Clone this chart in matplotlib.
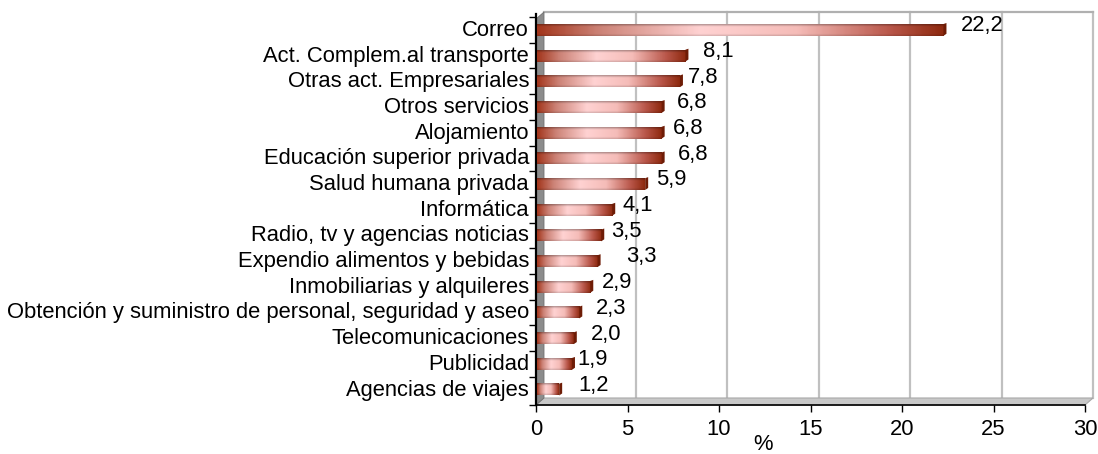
import numpy as np
import matplotlib.pyplot as plt
from matplotlib import transforms
from matplotlib.colors import LinearSegmentedColormap
from matplotlib.patches import Polygon

plt.rcParams['font.family'] = ['Liberation Sans', 'DejaVu Sans']

# data, top to bottom as in the chart
categories = [
    'Correo',
    'Act. Complem.al transporte',
    'Otras act. Empresariales',
    'Otros servicios',
    'Alojamiento',
    'Educación superior privada',
    'Salud humana privada',
    'Informática',
    'Radio, tv y agencias noticias',
    'Expendio alimentos y bebidas',
    'Inmobiliarias y alquileres',
    'Obtención y suministro de personal, seguridad y aseo',
    'Telecomunicaciones',
    'Publicidad',
    'Agencias de viajes',
]
values = [22.2, 8.1, 7.8, 6.8, 6.8, 6.8, 5.9, 4.1, 3.5, 3.3, 2.9, 2.3, 2.0, 1.9, 1.2]
x_ticks = [0, 5, 10, 15, 20, 25, 30]
# gap (px) between bar end and its label, labels were hand placed in the original
label_gap = [15, 15, 5, 12, 8, 13, 8, 7, 7, 26, 9, 14, 14, 3, 16]

FS = 15.8
W, H = 1098, 454
fig = plt.figure(figsize=(W / 100, H / 100), dpi=100)
# axes box in pixels: left 536, right 1085, top 14, bottom 405
ax = fig.add_axes([536 / W, 1 - 405 / H, (1085 - 536) / W, (405 - 14) / H])

n = len(categories)
pos = np.arange(n)[::-1]
ax.set_xlim(0, 30)
ax.set_ylim(-0.8, n - 1 + 0.42)

# 3d depth offset in pixels
dx_px, dy_px = 8, 7
ax_w, ax_h = 1085 - 536, 405 - 14
dx, dy = dx_px / ax_w, dy_px / ax_h
back = ax.get_xaxis_transform() + transforms.ScaledTranslation(dx_px / 100, dy_px / 100, fig.dpi_scale_trans)
top_frac = 1 - (dy_px - 2) / ax_h

# back wall grid lines
for t in x_ticks[1:]:
    ax.plot([t, t], [0, top_frac], color='#c0c0c0', lw=1.6, transform=back, clip_on=False, zorder=1)
ax.plot([0, 30], [top_frac, top_frac], color='#b0b0b0', lw=1.6, transform=back, clip_on=False, zorder=1)

# floor
floor = Polygon([(0, 0), (1, 0), (1 + dx, dy), (dx, dy)], closed=True, transform=ax.transAxes,
                facecolor='#c8c8c8', edgecolor='#a8a8a8', lw=0.8, clip_on=False, zorder=1)
ax.add_patch(floor)
# left wall
wall = Polygon([(0, 0), (dx, dy), (dx, top_frac + dy), (0, top_frac)], closed=True, transform=ax.transAxes,
               facecolor='#8c8c8c', edgecolor='#707070', lw=0.6, clip_on=False, zorder=1)
ax.add_patch(wall)

# bar shading: dark ends, light pink in the middle
cmap = LinearSegmentedColormap.from_list('bar', [
    (0.0, '#a3361c'), (0.15, '#cc8276'), (0.4, '#ffd2d2'), (0.64, '#f5bcb8'),
    (0.87, '#b9574a'), (1.0, '#8f2a10')])
nx, ny = 200, 24
tx = np.linspace(0, 1, nx)
row = cmap(tx)[:, :3]
vy = np.linspace(0, 1, ny)
shade = 1 - 0.3 * np.clip((0.2 - vy) / 0.2, 0, 1) - 0.15 * np.clip((vy - 0.82) / 0.18, 0, 1)
img = np.clip(row[None, :, :] * shade[:, None, None], 0, 1)

bh = 0.46
shift = 4 / (ax_w / 30) * 0.3  # bars sit in middle depth
cap_w = 3 / (ax_w / 30)
for p, v in zip(pos, values):
    y0 = p - 0.2
    ax.imshow(img, extent=(shift, v + shift, y0 - bh / 2, y0 + bh / 2), origin='upper',
              aspect='auto', interpolation='bilinear', zorder=3)
    ax.add_patch(Polygon([(v + shift, y0 - bh / 2), (v + shift + cap_w, y0 - bh / 2 + 0.08),
                          (v + shift + cap_w, y0 + bh / 2 + 0.04), (v + shift, y0 + bh / 2)],
                         closed=True, facecolor='#6e1c06', edgecolor='none', zorder=4))

ax.set_xlim(0, 30)
ax.set_ylim(-0.8, n - 1 + 0.42)

for p, v, g in zip(pos, values, label_gap):
    ax.annotate(f'{v:.1f}'.replace('.', ','), xy=(v + shift, p - 0.2), xytext=(g * 0.72 + 2, 3),
                textcoords='offset points', ha='left', va='center', fontsize=FS, zorder=5)

# axes styling
for s in ['top', 'right']:
    ax.spines[s].set_visible(False)
ax.spines['left'].set_linewidth(1.6)
ax.spines['bottom'].set_linewidth(1.2)
ax.spines['left'].set_bounds(-0.8, n - 1 + 0.42)
ax.set_xticks(x_ticks)
ax.set_xticklabels([str(t) for t in x_ticks], fontsize=FS)
ax.tick_params(axis='x', length=5, width=1, pad=5)
ax.set_yticks(pos - 0.12)
ax.set_yticklabels(categories, fontsize=FS)
ax.tick_params(axis='y', length=0, pad=5)
ax.set_yticks(list(pos + 0.3) + [-0.8], minor=True)
ax.tick_params(axis='y', which='minor', length=5, width=1)
ax.set_xlabel('%', fontsize=FS, labelpad=0)
ax.xaxis.set_label_coords((763 - 536) / ax_w, -(445 - 405) / ax_h, transform=ax.transAxes)
ax.xaxis.label.set_verticalalignment('center')

fig.savefig('out.png', dpi=100)
